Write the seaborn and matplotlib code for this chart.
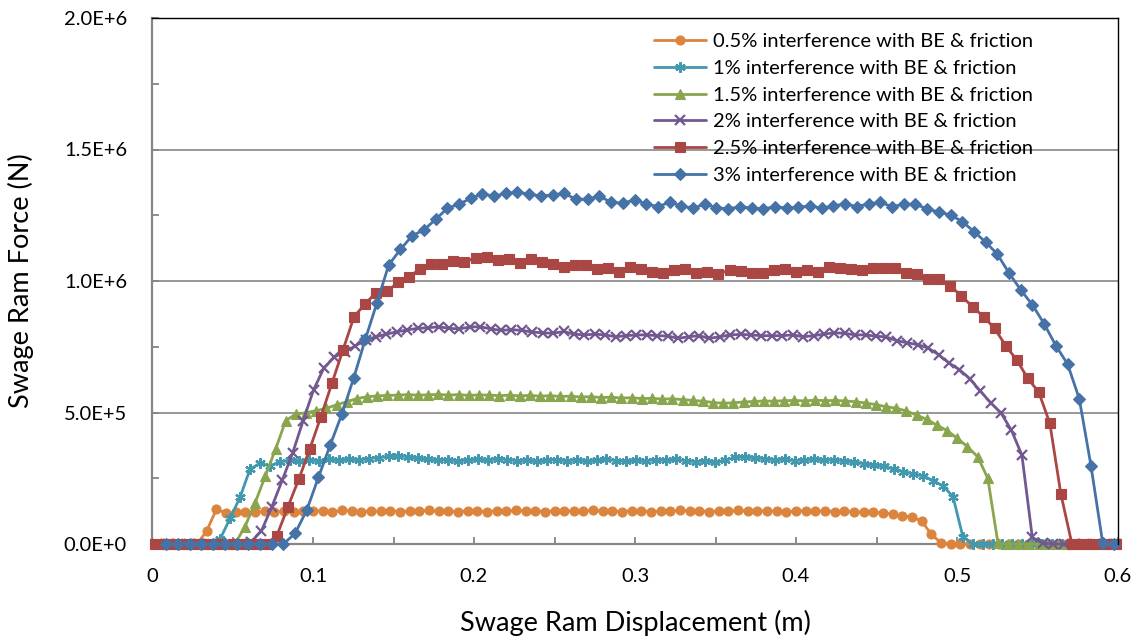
import numpy as np
import pandas as pd
import matplotlib
matplotlib.use("Agg")
import matplotlib.pyplot as plt
from matplotlib.ticker import MultipleLocator, FixedLocator, FixedFormatter
import seaborn as sns

# ---------------- data (force in 1E+6 N) ----------------
labels = ["0.5% interference with BE & friction",
          "1% interference with BE & friction",
          "1.5% interference with BE & friction",
          "2% interference with BE & friction",
          "2.5% interference with BE & friction",
          "3% interference with BE & friction"]

# displacement sampling grid of each run: first sample and step (m)
x_start = [0.004, 0.0055, 0.0072, 0.0033, 0.002, 0.0089]
x_step = [0.006, 0.00615, 0.00632, 0.00647, 0.00686, 0.00727]

f_05 = [0, 0, 0, 0, 0,
        0.05, 0.132, 0.118,
        0.120, 0.122, 0.121, 0.124, 0.122, 0.125, 0.123, 0.126, 0.124, 0.127,
        0.123, 0.128, 0.125, 0.122, 0.126, 0.124, 0.127, 0.123, 0.126, 0.125,
        0.128, 0.124, 0.126, 0.122, 0.127, 0.125, 0.123, 0.126, 0.124, 0.128,
        0.125, 0.127, 0.123, 0.126, 0.124, 0.127, 0.125, 0.128, 0.124, 0.126,
        0.123, 0.127, 0.125, 0.122, 0.126, 0.124, 0.128, 0.125, 0.127, 0.123,
        0.126, 0.124, 0.128, 0.125, 0.127, 0.124, 0.126, 0.123, 0.125, 0.127,
        0.124, 0.126, 0.123, 0.125, 0.122, 0.121,
        0.120, 0.118, 0.114, 0.106, 0.103, 0.087, 0.038, 0.004,
        0, 0, 0, 0, 0, 0, 0, 0, 0, 0, 0, 0, 0, 0, 0, 0, 0, 0]

f_10 = [0, 0, 0, 0, 0, 0,
        0.02, 0.098, 0.178, 0.284, 0.307, 0.297,
        0.312, 0.318, 0.314, 0.320, 0.316, 0.322, 0.318, 0.323, 0.319, 0.325,
        0.328, 0.333, 0.336, 0.331, 0.326, 0.322, 0.318, 0.320, 0.316, 0.319,
        0.322, 0.318, 0.325, 0.321, 0.316, 0.319, 0.314, 0.318, 0.321, 0.316,
        0.320, 0.315, 0.318, 0.322, 0.317, 0.314, 0.319, 0.316, 0.321, 0.318,
        0.322, 0.317, 0.313, 0.316, 0.310, 0.318, 0.329, 0.332, 0.327, 0.324,
        0.320, 0.322, 0.317, 0.320, 0.323, 0.319, 0.321, 0.316,
        0.312, 0.305, 0.300, 0.297, 0.284, 0.275, 0.266, 0.259, 0.241, 0.221, 0.18, 0.028,
        0, 0, 0, 0, 0, 0, 0, 0, 0, 0, 0, 0, 0, 0, 0]

f_15 = [0, 0, 0, 0, 0, 0, 0, 0,
        0.066, 0.157, 0.259, 0.36, 0.469, 0.494, 0.499, 0.507, 0.516, 0.529,
        0.541, 0.553, 0.560, 0.563,
        0.565, 0.566, 0.568, 0.566, 0.567, 0.569, 0.566, 0.568, 0.565, 0.567,
        0.566, 0.564, 0.566, 0.563, 0.565, 0.562, 0.564, 0.561, 0.562, 0.559,
        0.560, 0.557, 0.558, 0.555, 0.556, 0.553, 0.554, 0.551, 0.552, 0.549,
        0.546, 0.543, 0.538, 0.535, 0.537, 0.540, 0.542, 0.544, 0.543, 0.545,
        0.546, 0.544, 0.547, 0.545, 0.546, 0.544, 0.541,
        0.536, 0.530, 0.522, 0.516, 0.506, 0.490, 0.474, 0.452, 0.431, 0.402,
        0.370, 0.332, 0.250, 0.003,
        0, 0, 0, 0, 0, 0, 0, 0, 0, 0, 0]

f_20 = [0, 0, 0, 0, 0, 0, 0, 0, 0,
        0.008, 0.05, 0.142, 0.243, 0.347, 0.469, 0.586, 0.670, 0.711, 0.731,
        0.753, 0.776, 0.788, 0.798, 0.807, 0.814, 0.820,
        0.822, 0.826, 0.820, 0.818, 0.825, 0.826, 0.818, 0.812, 0.815, 0.812,
        0.806, 0.803, 0.801, 0.808, 0.798, 0.795, 0.798, 0.795, 0.788, 0.792,
        0.795, 0.795, 0.792, 0.791, 0.782, 0.788, 0.792, 0.782, 0.788, 0.795,
        0.797, 0.795, 0.792, 0.792, 0.792, 0.795, 0.788, 0.792, 0.798, 0.803,
        0.801, 0.795, 0.795, 0.790,
        0.787, 0.773, 0.765, 0.758, 0.745, 0.72, 0.688, 0.663, 0.628, 0.582,
        0.537, 0.498, 0.432, 0.338, 0.025, 0.003,
        0, 0, 0, 0, 0, 0, 0]

f_25 = [0, 0, 0, 0, 0, 0, 0, 0, 0, 0, 0,
        0.03, 0.14, 0.246, 0.362, 0.484, 0.611, 0.738, 0.864, 0.913, 0.956,
        0.961, 0.995, 1.016, 1.047, 1.065, 1.063, 1.076, 1.071, 1.089, 1.092,
        1.080, 1.082, 1.067, 1.082, 1.073, 1.063,
        1.054, 1.060, 1.060, 1.045, 1.048, 1.035, 1.052, 1.045, 1.035, 1.031,
        1.042, 1.045, 1.031, 1.035, 1.026, 1.042, 1.039, 1.031, 1.029, 1.042,
        1.045, 1.035, 1.042, 1.035, 1.052, 1.048, 1.045, 1.042, 1.048, 1.048,
        1.048, 1.029, 1.025, 1.008, 1.008, 0.981, 0.943, 0.902, 0.864, 0.820,
        0.754, 0.700, 0.630, 0.577, 0.459, 0.190, 0.0,
        0, 0, 0, 0]

f_30 = [0, 0, 0, 0, 0, 0, 0, 0, 0, 0, 0,
        0.04, 0.129, 0.254, 0.376, 0.494, 0.630, 0.778, 0.918, 1.061, 1.120,
        1.172, 1.194, 1.234, 1.276, 1.292, 1.314, 1.331, 1.323, 1.333, 1.337,
        1.331, 1.323, 1.327,
        1.333, 1.311, 1.311, 1.323, 1.299, 1.296, 1.308, 1.293, 1.283, 1.299,
        1.286, 1.277, 1.292, 1.279, 1.274, 1.283, 1.277, 1.274, 1.283, 1.277,
        1.280, 1.286, 1.277, 1.286, 1.293, 1.283, 1.293, 1.299,
        1.283, 1.292, 1.292, 1.274, 1.262, 1.251, 1.226, 1.188, 1.148, 1.102,
        1.030, 0.966, 0.909, 0.837, 0.754, 0.684, 0.552, 0.297, 0.004, 0]

forces = [f_05, f_10, f_15, f_20, f_25, f_30]

x_ticks = [0, 0.1, 0.2, 0.3, 0.4, 0.5, 0.6]
x_tick_labels = ["0", "0.1", "0.2", "0.3", "0.4", "0.5", "0.6"]
y_ticks = [0, 0.5e6, 1.0e6, 1.5e6, 2.0e6]
y_tick_labels = ["0.0E+0", "5.0E+5", "1.0E+6", "1.5E+6", "2.0E+6"]

# ---------------- styling ----------------
colors = ["#DB843D", "#4198AF", "#89A54E", "#71588F", "#AA4643", "#4572A7"]
markers = ["o", (6, 2, 0), "^", "x", "s", "D"]
msizes = [6.5, 7.5, 7, 6.5, 6.5, 6]

sns.set_theme(style="white")
plt.rcParams["font.family"] = ["Lato", "DejaVu Sans"]

frames = []
for lab, x0, dx, f in zip(labels, x_start, x_step, forces):
    disp = x0 + dx * np.arange(len(f))
    frames.append(pd.DataFrame({"disp": disp, "force": np.array(f) * 1e6, "series": lab}))
df = pd.concat(frames, ignore_index=True)

fig = plt.figure(figsize=(11.38, 6.41), dpi=100)
ax = fig.add_axes([152 / 1138, 1 - 544 / 641, (1118 - 152) / 1138, (544 - 18) / 641])

for lab, col, mk, ms in zip(labels, colors, markers, msizes):
    sub = df[df["series"] == lab]
    sns.lineplot(data=sub, x="disp", y="force", ax=ax, color=col, marker=mk,
                 markersize=ms, markeredgecolor=col, markerfacecolor=col,
                 markeredgewidth=1.6 if mk in ("x", (6, 2, 0)) else 0.8,
                 linewidth=2.0, label=lab, sort=False, estimator=None,
                 clip_on=False)

ax.set_xlim(0, 0.6)
ax.set_ylim(0, 2.0e6)
ax.xaxis.set_major_locator(FixedLocator(x_ticks))
ax.xaxis.set_major_formatter(FixedFormatter(x_tick_labels))
ax.xaxis.set_minor_locator(MultipleLocator(0.05))
ax.yaxis.set_major_locator(FixedLocator(y_ticks))
ax.yaxis.set_major_formatter(FixedFormatter(y_tick_labels))
ax.yaxis.set_minor_locator(MultipleLocator(0.25e6))

grey = "#868686"
ax.grid(False)
ax.yaxis.grid(True, which="major", color=grey, linewidth=1.2)
ax.set_axisbelow(True)
for side in ("left", "bottom"):
    ax.spines[side].set_color(grey)
    ax.spines[side].set_linewidth(1.6)
    ax.spines[side].set_zorder(1.5)
for side in ("top", "right"):
    ax.spines[side].set_color("black")
    ax.spines[side].set_linewidth(1.0)

ax.tick_params(axis="both", which="both", direction="in", color=grey, width=1.3,
               left=True, bottom=True, top=False, right=False)
ax.tick_params(axis="both", which="major", length=5, labelsize=14.5, labelcolor="black")
ax.tick_params(axis="both", which="minor", length=5)
ax.tick_params(axis="x", which="major", pad=17)
ax.tick_params(axis="y", which="major", pad=18)

ax.set_xlabel("Swage Ram Displacement (m)", fontsize=19.5, color="black")
ax.set_ylabel("Swage Ram Force (N)", fontsize=19.5, color="black")
ax.xaxis.set_label_coords(0.5, -0.125)
ax.yaxis.set_label_coords(-0.122, 0.5)

leg = ax.legend(loc="upper left", bbox_to_anchor=(654 / 1138, 1 - 33 / 641),
                bbox_transform=fig.transFigure, frameon=False, fontsize=14.5,
                handlelength=2.6, handletextpad=0.35, labelspacing=0.48,
                borderpad=0, borderaxespad=0)
for t in leg.get_texts():
    t.set_color("black")

fig.savefig("out.png", dpi=100)
